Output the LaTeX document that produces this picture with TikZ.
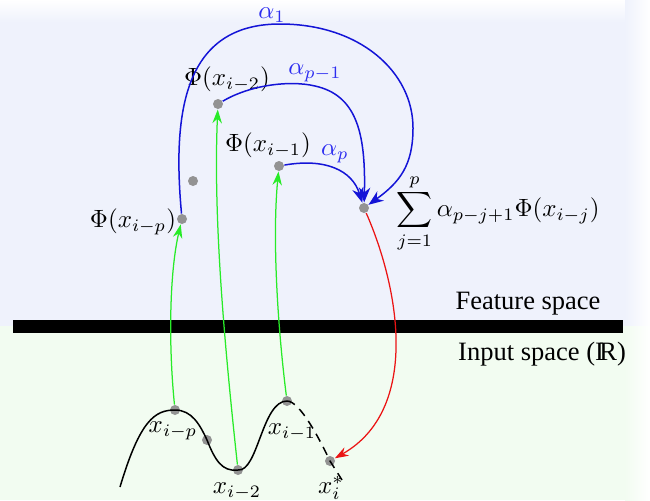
\documentclass[tikz,border=0pt]{standalone}
\usepackage{fontspec}
\setmainfont{Liberation Serif}
\usetikzlibrary{arrows.meta}
\definecolor{bluebg}{RGB}{239,242,252}
\definecolor{greenbg}{RGB}{242,252,241}
\definecolor{arcblue}{RGB}{20,20,215}
\definecolor{lblblue}{RGB}{45,45,240}
\definecolor{arrgreen}{RGB}{40,235,40}
\definecolor{arrred}{RGB}{235,20,20}
\tikzset{
  dot/.style={circle,fill=gray!85,inner sep=0pt,minimum size=4pt},
  bluearc/.style={draw=arcblue,line width=0.6pt,-{Stealth[length=6pt,width=4.6pt]}},
  greenarr/.style={draw=arrgreen,line width=0.5pt,-{Stealth[length=5.5pt,width=3.8pt]}},
  redarr/.style={draw=arrred,line width=0.5pt,-{Stealth[length=5.5pt,width=3.8pt]}},
  alab/.style={text=lblblue,inner sep=0pt},
  lab/.style={inner sep=0pt},
  spacelab/.style={inner sep=0pt,font=\fontsize{10.6}{12}\selectfont}
}
\begin{document}
\begin{tikzpicture}[x=0.4pt,y=-0.4pt]
\useasboundingbox (0,0) rectangle (650,500);
\fill[white] (0,0) rectangle (650,500);
\fill[bluebg] (0,0) rectangle (650,326);
\fill[greenbg] (0,326) rectangle (650,500);
\shade[top color=white,bottom color=bluebg] (0,0) rectangle (650,22);
\shade[left color=bluebg,right color=white] (625,0) rectangle (650,326);
\shade[left color=greenbg,right color=white] (625,326) rectangle (650,500);
\fill[black] (13,320) rectangle (623,333);

% feature space points
\node[dot] (pp) at (182,219) {};
\node[dot] (pm) at (193,181) {};
\node[dot] (p2) at (218,104) {};
\node[dot] (p1) at (279,166) {};
\node[dot] (s) at (364,208) {};
% input space points
\node[dot] (xp) at (175,410) {};
\node[dot] (xm) at (207,440) {};
\node[dot] (x2) at (238,470) {};
\node[dot] (x1) at (287,401) {};
\node[dot] (xs) at (330,461) {};

% labels
\node[lab] at (227,79) {$\Phi(x_{i-2})$};
\node[lab] at (268,145) {$\Phi(x_{i-1})$};
\node[lab] at (133,222) {$\Phi(x_{i-p})$};
\node[lab,anchor=west] at (396,213) {$\displaystyle\sum_{j=1}^{p}\alpha_{p-j+1}\Phi(x_{i-j})$};
\node[alab] at (272,15) {$\alpha_1$};
\node[alab] at (315,73) {$\alpha_{p-1}$};
\node[alab] at (335,154) {$\alpha_p$};

\node[lab] at (173,431) {$x_{i-p}$};
\node[lab] at (237,491) {$x_{i-2}$};
\node[lab] at (292,432) {$x_{i-1}$};
\node[lab] at (331,488) {$x_i^{*}$};

\node[spacelab] at (528,304) {Feature space};
\node[spacelab] at (542,354) {Input space ($\mathrm{I\!R}$)};

% signal curve
\draw[line width=0.6pt] (120,487) .. controls (140,420) and (155,410) .. (xp.center)
  .. controls (192,410) and (200,425) .. (xm.center)
  .. controls (215,460) and (222,472) .. (x2.center)
  .. controls (258,472) and (262,401) .. (x1.center);
\draw[line width=0.6pt,dash pattern=on 3.5pt off 2.5pt] (x1.center) .. controls (300,401) and (320,440) .. (xs.center) -- (342,480);

% green mapping arrows
\draw[greenarr] (xp) .. controls (168,340) and (170,270) .. (pp);
\draw[greenarr] (x2) .. controls (225,350) and (213,220) .. (p2);
\draw[greenarr] (x1) .. controls (278,330) and (272,240) .. (p1);

% blue weighted arcs
\draw[bluearc] (pp) .. controls (172,110) and (185,24) .. (280,24)
  .. controls (360,24) and (413,72) .. (413,128)
  .. controls (413,165) and (400,182) .. (s);
\draw[bluearc] (p2) .. controls (250,85) and (290,80) .. (315,86)
  .. controls (355,95) and (366,130) .. (s);
\draw[bluearc] (p1) .. controls (325,158) and (352,170) .. (s);

% red prediction arrow
\draw[redarr] (s) .. controls (400,290) and (420,410) .. (xs);
\end{tikzpicture}
\end{document}
